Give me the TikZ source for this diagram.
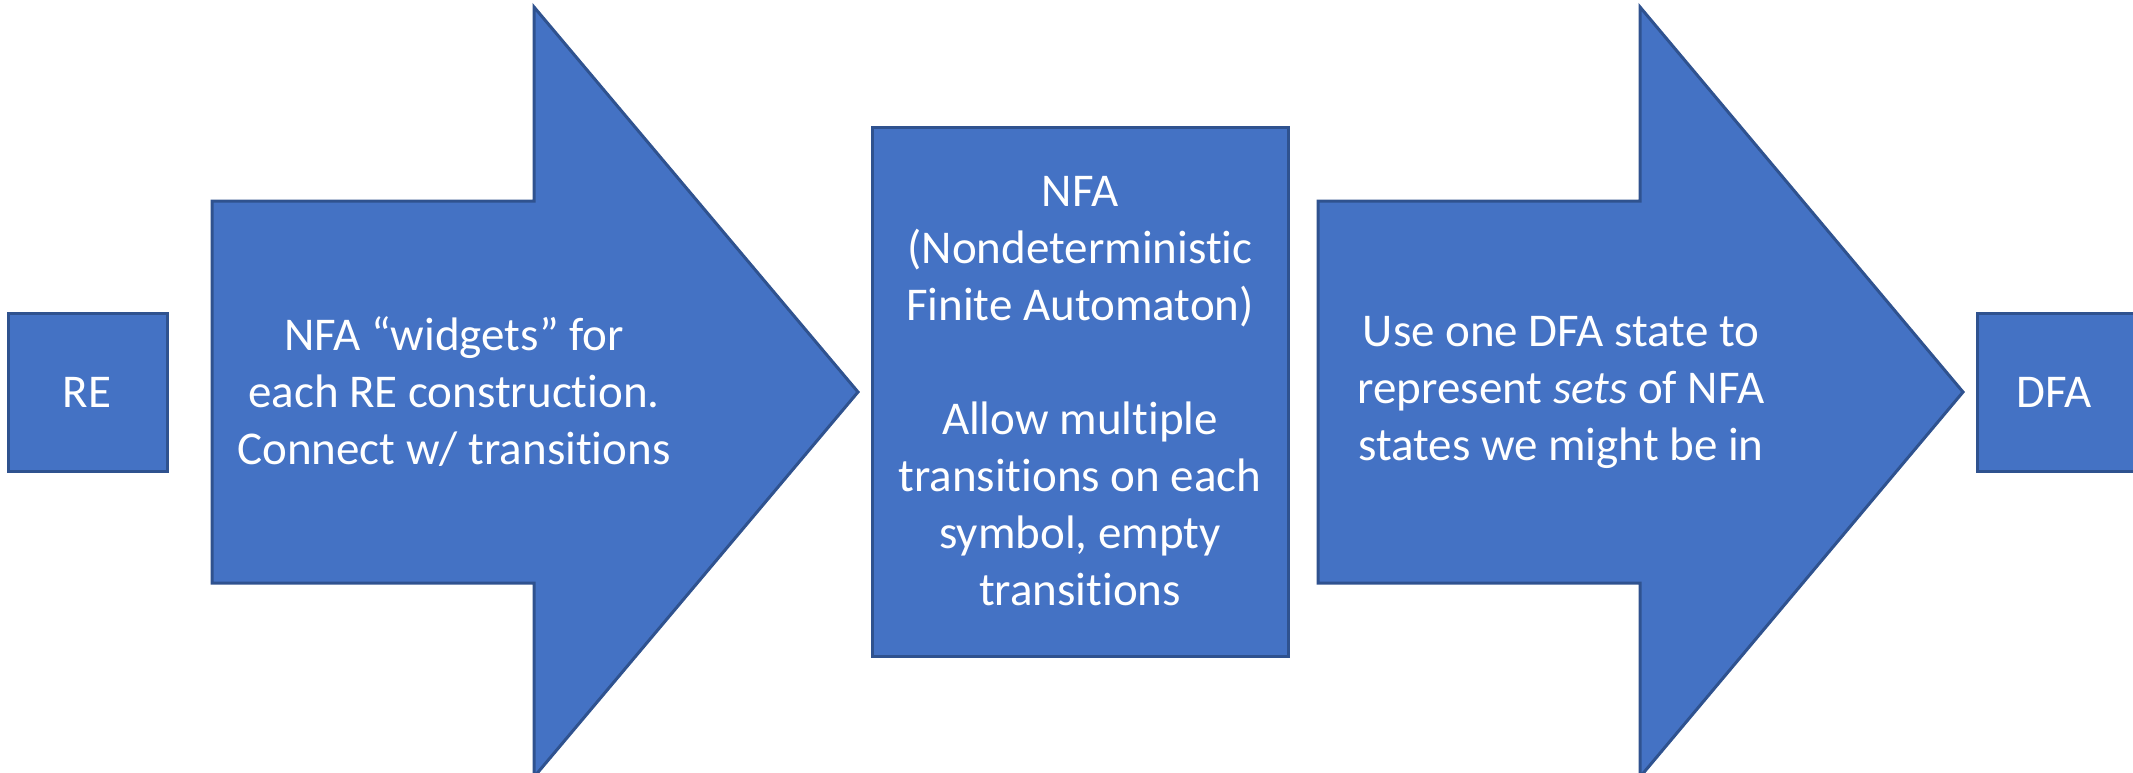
\documentclass[tikz,border=0pt]{standalone}
\usepackage{fontspec}
\setmainfont{Carlito}[Ligatures=CommonOff]
\definecolor{boxfill}{HTML}{4472C4}
\definecolor{boxline}{HTML}{2F528F}
\begin{document}
\begin{tikzpicture}[x=1pt,y=-1pt,
  blueshape/.style={fill=boxfill,draw=boxline,line width=3pt,line join=miter},
  lbl/.style={text=white,font=\fontsize{47}{57}\selectfont,align=center,inner sep=0pt}]
\useasboundingbox (0,0) rectangle (2133,772);
% RE box
\draw[blueshape] (8,313) rectangle (167,471);
\node[lbl] (re) at (87,392) {RE};
% arrow 1
\draw[blueshape] (212,201) -- (534,201) -- (534,7) -- (858,392) -- (534,777) -- (534,583) -- (212,583) -- cycle;
\node[lbl] (a1) at (454,392) {NFA “widgets” for\\each RE construction.\\Connect w/ transitions};
% NFA box
\draw[blueshape] (872,127) rectangle (1288,656);
\node[lbl] (nfa) at (1080,391) {NFA\\(Nondeterministic\\Finite Automaton)\\[57pt]Allow multiple\\transitions on each\\symbol, empty\\transitions};
% arrow 2
\draw[blueshape] (1318,201) -- (1640,201) -- (1640,7) -- (1963,392) -- (1640,777) -- (1640,583) -- (1318,583) -- cycle;
\node[lbl] (a2) at (1561,392) {Use one DFA state to\\represent \textit{sets} of NFA\\states we might be in};
% DFA box
\draw[blueshape] (1977,313) rectangle (2145,471);
\node[lbl] (dfa) at (2054,392) {DFA};
\end{tikzpicture}
\end{document}
